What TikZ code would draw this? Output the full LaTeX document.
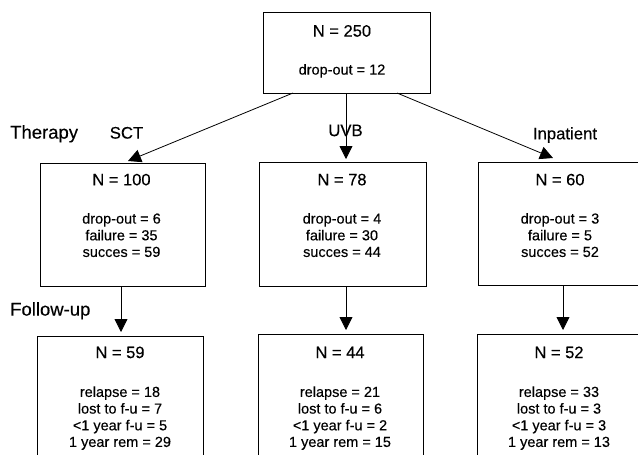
\documentclass[tikz,border=0pt]{standalone}
\usepackage{fontspec}
\setmainfont{Liberation Sans}[FakeBold=0.3]
\usetikzlibrary{arrows.meta}
\begin{document}
\begin{tikzpicture}[x=1pt,y=-1pt,
  box/.style={draw, line width=0.9pt, inner sep=0pt, outer sep=0pt},
  arr/.style={line width=0.8pt, -{Triangle[length=13pt,width=13pt]}},
  big/.style={font=\fontsize{16.5}{18}\selectfont, text height=0.72em, text depth=0pt, inner sep=0pt, anchor=center},
  small/.style={font=\fontsize{14.5}{16}\selectfont, text height=0.72em, text depth=0pt, inner sep=0pt, anchor=center},
  lbl/.style={font=\fontsize{16.7}{18}\selectfont, text height=0.72em, text depth=0pt, inner sep=0pt, anchor=center},
  head/.style={font=\fontsize{18.5}{20}\selectfont, text height=0.72em, text depth=0pt, inner sep=0pt, anchor=west}]
\useasboundingbox (0,0) rectangle (638,455);
% boxes
\node[box, minimum width=167pt, minimum height=81pt] (top) at (346.5,52.5) {};
\node[box, minimum width=165pt, minimum height=123pt] (sct) at (122.5,224.5) {};
\node[box, minimum width=167pt, minimum height=124pt] (uvb) at (342.5,224) {};
\node[box, minimum width=164pt, minimum height=123pt] (inp) at (560,223.5) {};
\node[box, minimum width=166pt, minimum height=130pt] (fa) at (120,401) {};
\node[box, minimum width=165pt, minimum height=130pt] (fb) at (340.5,399) {};
\node[box, minimum width=166pt, minimum height=130pt] (fc) at (560,399) {};
% texts
\node[big] (t0) at (342,33) {N = 250};
\node[small] (t0a) at (342,71) {drop-out = 12};

\node[big] (t1) at (121.5,181.7) {N = 100};
\node[small] (t1a) at (121.5,220) {drop-out = 6};
\node[small] (t1b) at (121.5,236.7) {failure = 35};
\node[small] (t1c) at (121.5,253.3) {succes = 59};

\node[big] (t2) at (342,181.7) {N = 78};
\node[small] (t2a) at (342,220) {drop-out = 4};
\node[small] (t2b) at (342,236.7) {failure = 30};
\node[small] (t2c) at (342,253.3) {succes = 44};

\node[big] (t3) at (560,181.7) {N = 60};
\node[small] (t3a) at (560,220) {drop-out = 3};
\node[small] (t3b) at (560,236.7) {failure = 5};
\node[small] (t3c) at (560,253.3) {succes = 52};

\node[big] (u1) at (120,354.5) {N = 59};
\node[small] (u1a) at (120,393.3) {relapse = 18};
\node[small] (u1b) at (120,410) {lost to f-u = 7};
\node[small] (u1c) at (120,426.7) {<1 year f-u = 5};
\node[small] (u1d) at (120,443.3) {1 year rem = 29};

\node[big] (u2) at (340,354.5) {N = 44};
\node[small] (u2a) at (340,393.3) {relapse = 21};
\node[small] (u2b) at (340,410) {lost to f-u = 6};
\node[small] (u2c) at (340,426.7) {<1 year f-u = 2};
\node[small] (u2d) at (340,443.3) {1 year rem = 15};

\node[big] (u3) at (559,354.5) {N = 52};
\node[small] (u3a) at (559,393.3) {relapse = 33};
\node[small] (u3b) at (559,410) {lost to f-u = 3};
\node[small] (u3c) at (559,426.7) {<1 year f-u = 3};
\node[small] (u3d) at (559,443.3) {1 year rem = 13};
% labels
\node[head] (ther) at (10,135) {Therapy};
\node[head] (fol) at (10,312) {Follow-up};
\node[lbl] (lsct) at (126.5,135) {SCT};
\node[lbl] (luvb) at (345.5,132.5) {UVB};
\node[lbl] (linp) at (565,135.7) {Inpatient};
% arrows
\draw[arr] ([xshift=-53.5pt]top.south) -- ([xshift=5.5pt,yshift=2pt]sct.north);
\draw[arr] ([xshift=-0.5pt]top.south) -- ([xshift=3.5pt,yshift=3pt]uvb.north);
\draw[arr] ([xshift=50.5pt]top.south) -- ([xshift=-7pt,yshift=4pt]inp.north);
\draw[arr] ([xshift=-1.5pt]sct.south) -- ([xshift=1pt,yshift=4pt]fa.north);
\draw[arr] ([xshift=3.5pt]uvb.south) -- ([xshift=5.5pt,yshift=4pt]fb.north);
\draw[arr] ([xshift=3pt]inp.south) -- ([xshift=3pt,yshift=4pt]fc.north);
\end{tikzpicture}
\end{document}
